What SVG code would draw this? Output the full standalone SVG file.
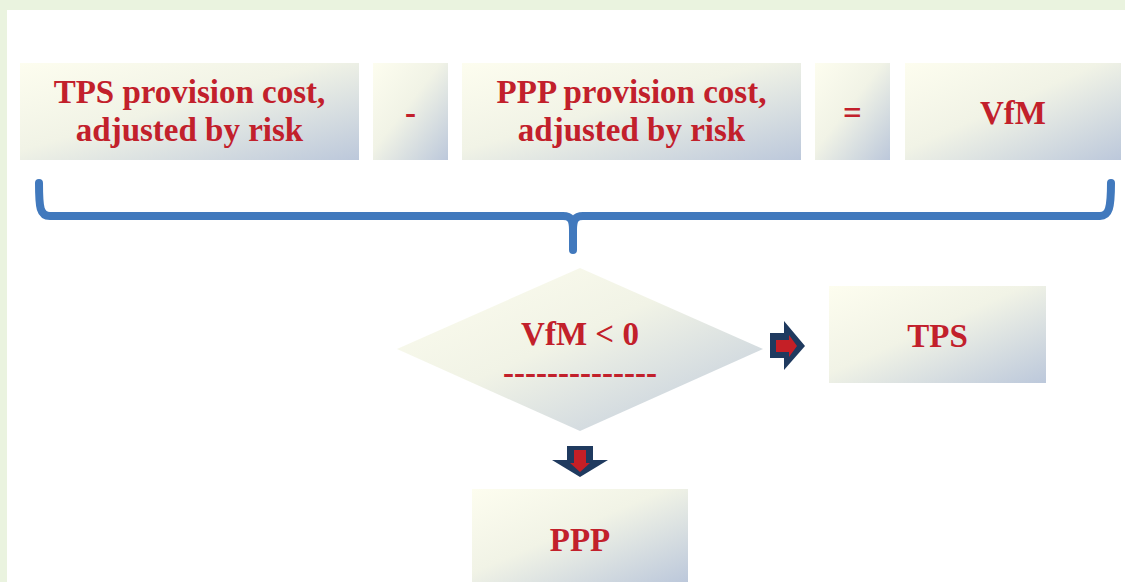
<svg xmlns="http://www.w3.org/2000/svg" width="1125" height="582" viewBox="0 0 1125 582">
  <defs>
    <linearGradient id="g" x1="0" y1="0" x2="1" y2="1">
      <stop offset="0" stop-color="#FDFDEF"/>
      <stop offset="0.45" stop-color="#F1F3E6"/>
      <stop offset="1" stop-color="#BCC8DB"/>
    </linearGradient>
    <style>
      .box { fill: url(#g); }
      .t { font-family: "Liberation Serif", "Times New Roman", serif; font-weight: bold; font-size: 33px; fill: #C2202B; text-anchor: middle; }
      .brace { fill: none; stroke: #4179BD; stroke-width: 8; stroke-linecap: round; stroke-linejoin: round; }
      .outer { fill: #1F3A5F; }
      .inner { fill: #C51F26; }
    </style>
  </defs>
  <rect x="0" y="0" width="1125" height="582" fill="#EAF3DF"/>
  <rect x="7" y="10" width="1118" height="572" fill="#FFFFFF"/>

  <g id="node-tps-cost">
    <rect class="box" x="20" y="63" width="339" height="97"/>
    <text class="t" x="189.5" y="103">TPS provision cost,</text>
    <text class="t" x="189.5" y="141">adjusted by risk</text>
  </g>
  <g id="node-minus">
    <rect class="box" x="373" y="63" width="75" height="97"/>
    <text class="t" x="410.5" y="124">-</text>
  </g>
  <g id="node-ppp-cost">
    <rect class="box" x="462" y="63" width="339" height="97"/>
    <text class="t" x="631.5" y="103">PPP provision cost,</text>
    <text class="t" x="631.5" y="141">adjusted by risk</text>
  </g>
  <g id="node-equals">
    <rect class="box" x="815" y="63" width="75" height="97"/>
    <text class="t" x="852.5" y="124">=</text>
  </g>
  <g id="node-vfm">
    <rect class="box" x="905" y="63" width="216" height="97"/>
    <text class="t" x="1013" y="124">VfM</text>
  </g>

  <g id="node-decision">
    <polygon class="box" points="397,349 580,268 763,349 580,431"/>
    <text class="t" x="580" y="345">VfM &lt; 0</text>
    <text class="t" x="580" y="384">--------------</text>
  </g>
  <g id="node-tps">
    <rect class="box" x="829" y="286" width="217" height="97"/>
    <text class="t" x="937.5" y="347">TPS</text>
  </g>
  <g id="node-ppp">
    <rect class="box" x="472" y="489" width="216" height="93"/>
    <text class="t" x="580" y="551">PPP</text>
  </g>

  <g id="connectors">
    <path class="brace" d="M39,183 C39,208 40,216 50,216 L563,216 C571,216 573,220 573,230 L573,250"/>
    <path class="brace" d="M573,230 C573,220 575,216 583,216 L1100,216 C1109,216 1111,208 1111,183"/>
    <g id="arrow-right">
      <polygon class="outer" points="770,333 784,333 784,321 805,346 784,370 784,358 770,358"/>
      <polygon class="inner" points="776,340 789,340 789,335 797,346 789,357 789,352 776,352"/>
    </g>
    <g id="arrow-down">
      <polygon class="outer" points="567,446 593,446 593,460 608,460 580,477 552,460 567,460"/>
      <polygon class="inner" points="574,450 586,450 586,463 590,463 580,472 570,463 574,463"/>
    </g>
  </g>
</svg>
